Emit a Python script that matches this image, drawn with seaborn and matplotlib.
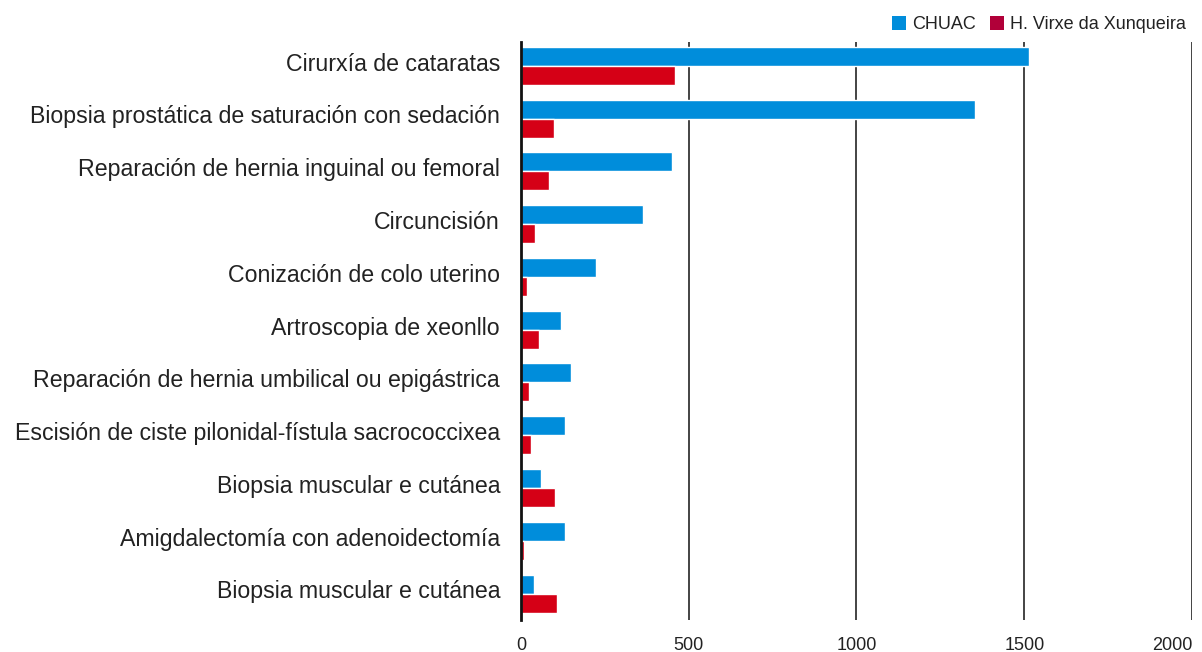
import seaborn as sns
import matplotlib.pyplot as plt
import matplotlib.transforms as mtransforms
import pandas as pd
from matplotlib.patches import Patch

procedures = [
    "Cirurxía de cataratas",
    "Biopsia prostática de saturación con sedación",
    "Reparación de hernia inguinal ou femoral",
    "Circuncisión",
    "Conización de colo uterino",
    "Artroscopia de xeonllo",
    "Reparación de hernia umbilical ou epigástrica",
    "Escisión de ciste pilonidal-fístula sacrococcixea",
    "Biopsia muscular e cutánea",
    "Amigdalectomía con adenoidectomía",
    "Biopsia muscular e cutánea",
]
chuac = [1514, 1353, 450, 364, 224, 119, 149, 131, 60, 131, 39]
xunqueira = [459, 98, 83, 42, 18, 54, 24, 30, 101, 9, 107]

hospitals = ["CHUAC", "H. Virxe da Xunqueira"]
bar_colors = ["#008DDB", "#D50016"]
legend_colors = ["#008DDB", "#B10039"]

# the label "Biopsia muscular e cutánea" appears twice, so key rows by position
keys = [f"{i}" for i in range(len(procedures))]
df = pd.concat([
    pd.DataFrame({"proc": keys, "value": chuac, "hospital": hospitals[0]}),
    pd.DataFrame({"proc": keys, "value": xunqueira, "hospital": hospitals[1]}),
])

sns.set_style("white")
plt.rcParams["font.family"] = ["Liberation Sans", "DejaVu Sans"]

fig = plt.figure(figsize=(12.02, 6.52), dpi=100)
ax = fig.add_axes([0.4334, 0.0491, 0.9917 - 0.4334, 0.9356 - 0.0491])

sns.barplot(data=df, y="proc", x="value", hue="hospital", palette=bar_colors,
            order=keys, hue_order=hospitals, width=0.72, saturation=1,
            legend=False, ax=ax, zorder=3)

ax.set_xlim(0, 2000)
ax.set_ylim(10.5, -0.45)
ax.set_yticks(range(len(procedures)))
ax.set_yticklabels(procedures)
ax.set_xticks([0, 500, 1000, 1500, 2000])
ax.xaxis.grid(True, color="#111111", linewidth=1.1, zorder=0)
ax.set_axisbelow(True)
ax.set_xlabel("")
ax.set_ylabel("")
for s in ["top", "right", "bottom"]:
    ax.spines[s].set_visible(False)
ax.spines["left"].set_color("#111111")
ax.spines["left"].set_linewidth(2)
ax.spines["left"].set_zorder(4)
ax.tick_params(axis="y", length=0, pad=15, labelsize=16.7, labelcolor="#222222")
ax.tick_params(axis="x", length=0, pad=12, labelsize=13, labelcolor="#222222")
ax.get_xticklabels()[-1].set_horizontalalignment("right")

# labels sit a little above the bar pair centre
shift = mtransforms.ScaledTranslation(0, 3 / 72, fig.dpi_scale_trans)
for lbl in ax.get_yticklabels():
    lbl.set_transform(lbl.get_transform() + shift)

handles = [Patch(facecolor=c, edgecolor="none") for c in legend_colors]
fig.legend(handles, hospitals, loc="upper right", bbox_to_anchor=(1.0, 1.0),
           ncol=2, frameon=False, fontsize=13, handlelength=0.8, handleheight=0.8,
           handletextpad=0.3, columnspacing=0.8, labelcolor="#222222")

fig.savefig("out.png", dpi=100)
